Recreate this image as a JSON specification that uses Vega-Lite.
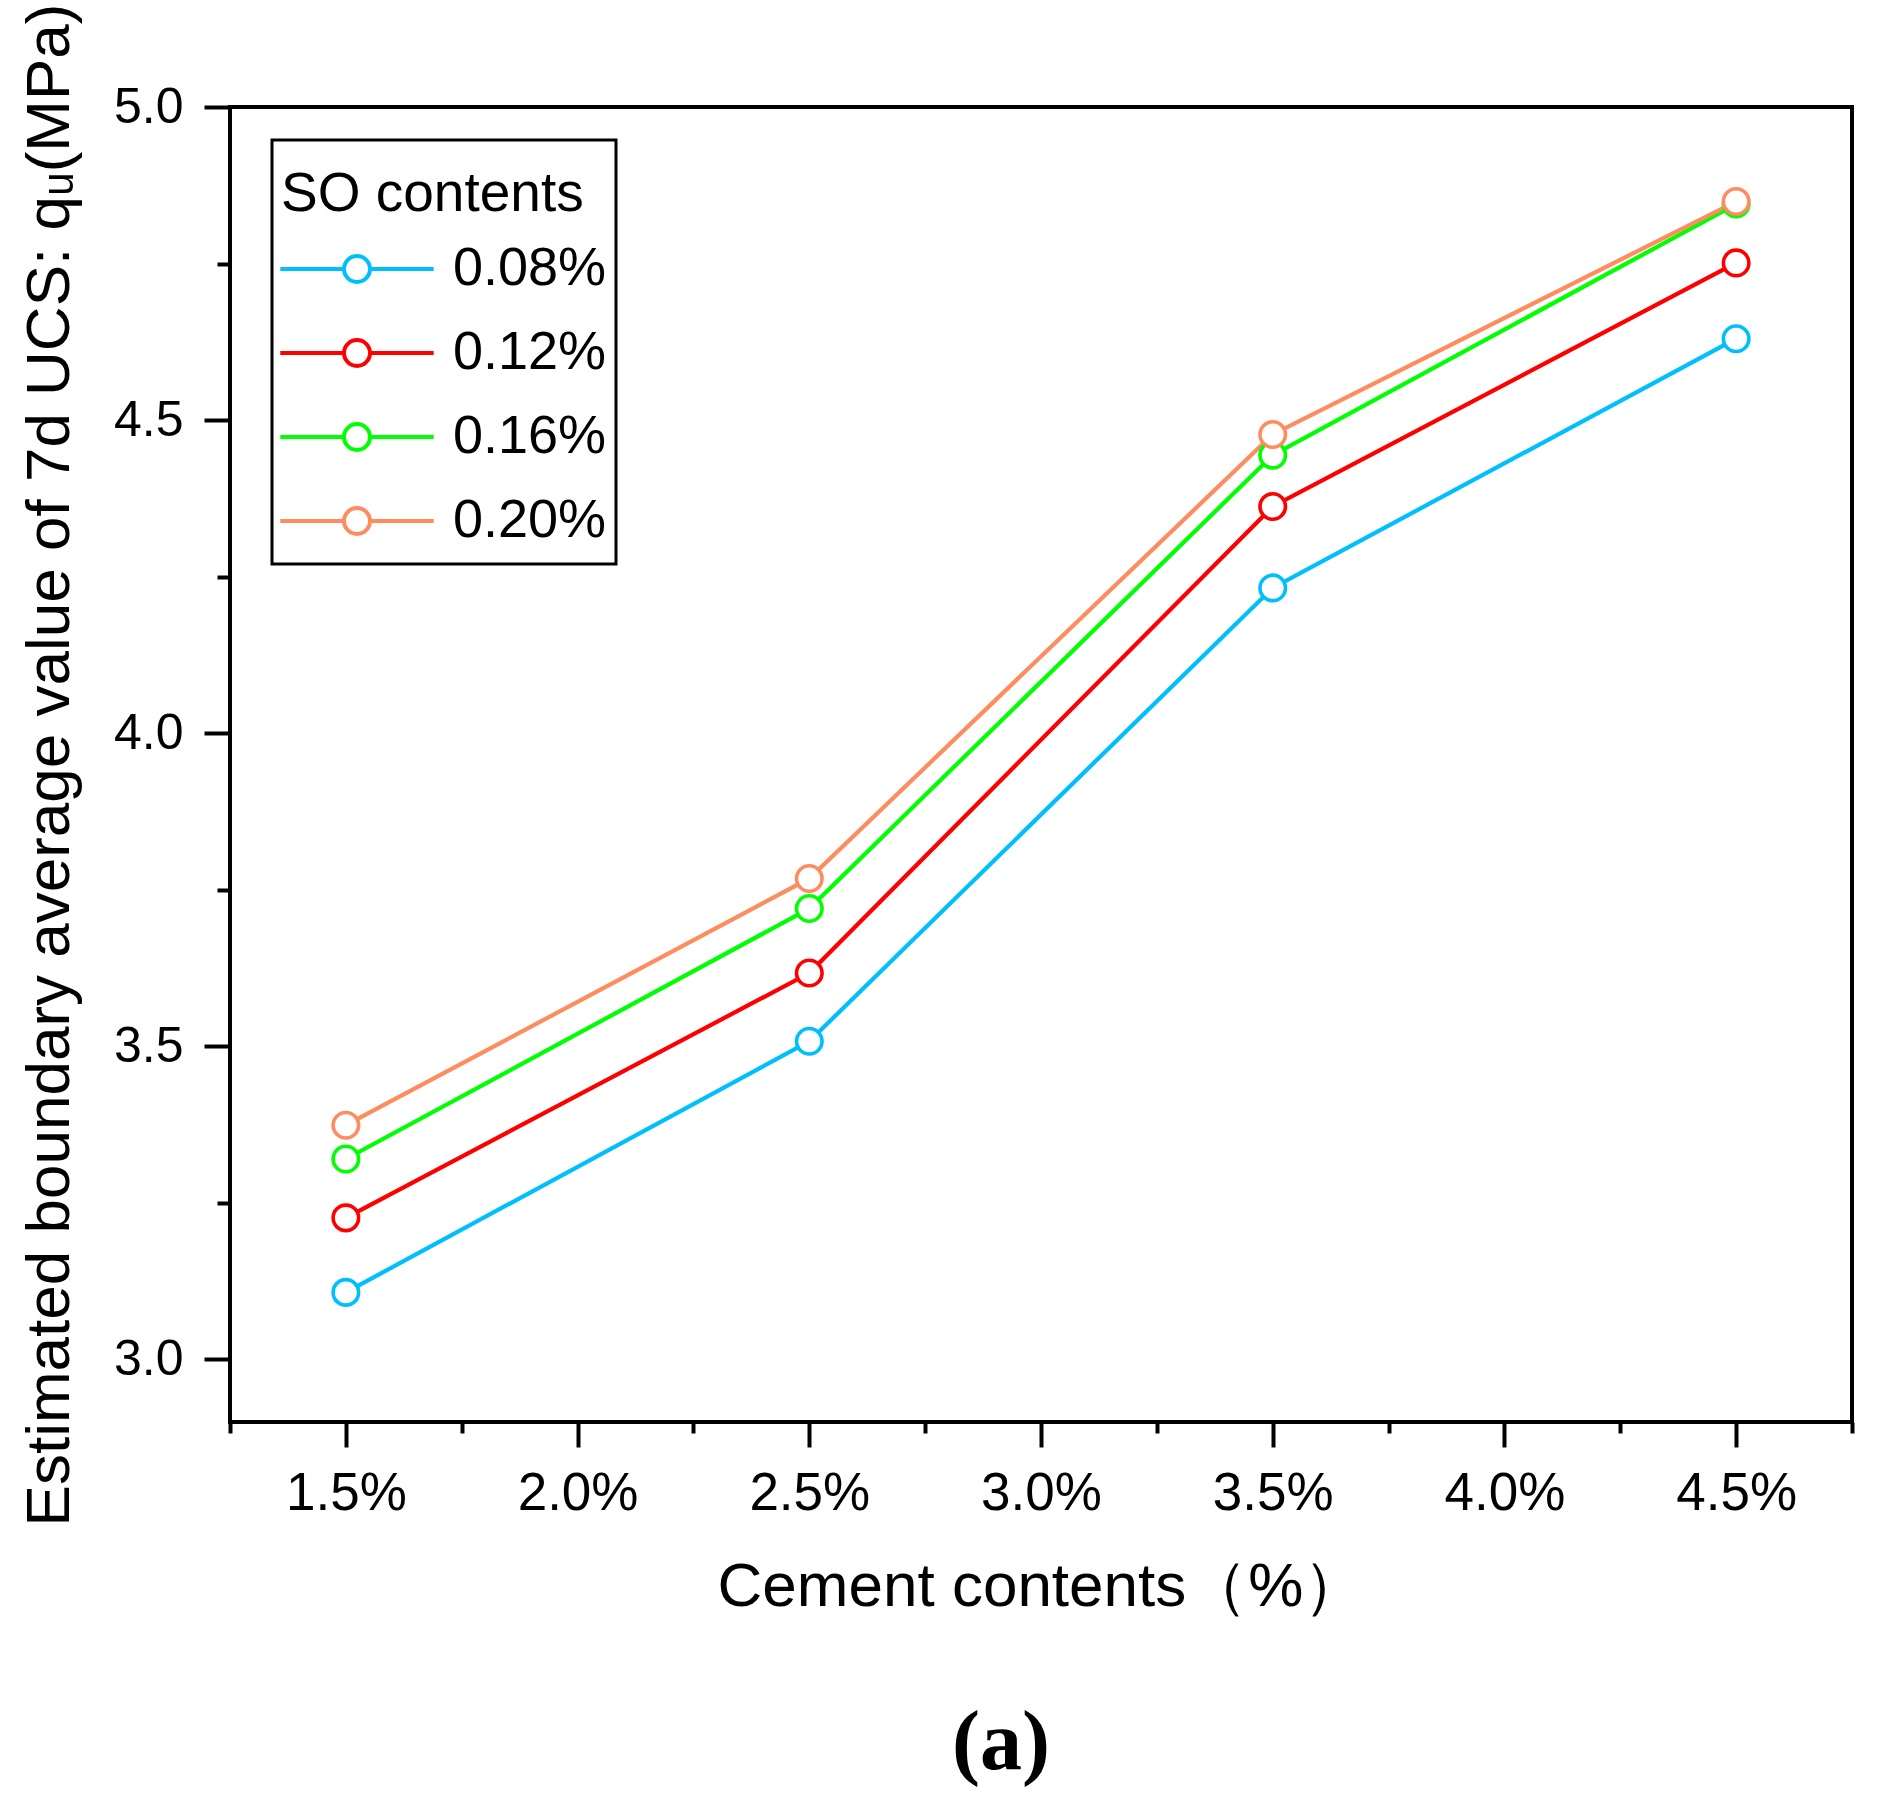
{
  "$schema": "https://vega.github.io/schema/vega-lite/v6.json",
  "width": 1622,
  "height": 1315,
  "autosize": {"type": "none"},
  "padding": {"left": 230, "top": 107, "right": 29, "bottom": 385},
  "background": "white",
  "config": {"view": {"stroke": "black", "strokeWidth": 4}, "font": "Liberation Sans"},
  "title": {"text": "(a)", "orient": "bottom", "font": "Liberation Serif", "fontWeight": "bold", "fontSize": 84, "offset": 86, "dx": -40, "color": "black", "anchor": "middle"},
  "data": {"values": [
    {"cement": 1.5, "so": "0.08%", "q": 3.107},
    {"cement": 2.5, "so": "0.08%", "q": 3.508},
    {"cement": 3.5, "so": "0.08%", "q": 4.232},
    {"cement": 4.5, "so": "0.08%", "q": 4.630},
    {"cement": 1.5, "so": "0.12%", "q": 3.226},
    {"cement": 2.5, "so": "0.12%", "q": 3.617},
    {"cement": 3.5, "so": "0.12%", "q": 4.362},
    {"cement": 4.5, "so": "0.12%", "q": 4.751},
    {"cement": 1.5, "so": "0.16%", "q": 3.320},
    {"cement": 2.5, "so": "0.16%", "q": 3.720},
    {"cement": 3.5, "so": "0.16%", "q": 4.444},
    {"cement": 4.5, "so": "0.16%", "q": 4.845},
    {"cement": 1.5, "so": "0.20%", "q": 3.374},
    {"cement": 2.5, "so": "0.20%", "q": 3.768},
    {"cement": 3.5, "so": "0.20%", "q": 4.477},
    {"cement": 4.5, "so": "0.20%", "q": 4.849}
  ]},
  "encoding": {
    "x": {
      "field": "cement", "type": "quantitative",
      "scale": {"domain": [1.25, 4.75], "nice": false, "zero": false},
      "axis": {
        "values": [1.25, 1.5, 1.75, 2, 2.25, 2.5, 2.75, 3, 3.25, 3.5, 3.75, 4, 4.25, 4.5, 4.75],
        "domain": false, "grid": false,
        "tickColor": "black", "tickWidth": 4,
        "tickSize": {"condition": {"test": "(datum.value*4)%2==0", "value": 25}, "value": 11},
        "labelExpr": "(datum.value*4)%2==0 ? format(datum.value,'.1f')+'%' : ''",
        "labelFont": "Liberation Sans", "labelFontSize": 53, "labelColor": "black", "labelPadding": 20,
        "labelFlush": false, "labelOverlap": false,
        "title": "Cement contents（%）", "titleFont": "Liberation Sans", "titleFontSize": 62, "titleFontWeight": "normal", "titleColor": "black", "titlePadding": 36
      }
    },
    "y": {
      "field": "q", "type": "quantitative",
      "scale": {"domain": [2.9, 5.0], "nice": false, "zero": false},
      "axis": {
        "values": [3, 3.25, 3.5, 3.75, 4, 4.25, 4.5, 4.75, 5],
        "domain": false, "grid": false,
        "tickColor": "black", "tickWidth": 4,
        "tickSize": {"condition": {"test": "(datum.value*4)%2==0", "value": 26}, "value": 13},
        "labelExpr": "(datum.value*4)%2==0 ? format(datum.value,'.1f') : ''",
        "labelFont": "Liberation Sans", "labelFontSize": 50, "labelColor": "black", "labelPadding": 21,
        "labelFlush": false, "labelOverlap": false,
        "title": "Estimated boundary average value of 7d UCS: qᵤ(MPa)", "titleFont": "Liberation Sans", "titleFontSize": 62, "titleFontWeight": "normal", "titleColor": "black", "titlePadding": 32
      }
    },
    "stroke": {
      "field": "so", "type": "nominal",
      "scale": {"domain": ["0.08%", "0.12%", "0.16%", "0.20%"], "range": ["#00BFFF", "#FF0000", "#00FF00", "#FF8C5E"]},
      "legend": {
        "title": "SO contents", "orient": "none", "legendX": 42, "legendY": 33,
        "strokeColor": "black", "fillColor": "white", "padding": 9,
        "titleFont": "Liberation Sans", "titleFontSize": 55, "titleFontWeight": "normal", "titleColor": "black", "titleLimit": 2000,
        "titleBaseline": "line-top", "titleLineHeight": 92, "titlePadding": 38,
        "labelFont": "Liberation Sans", "labelFontSize": 54, "labelColor": "black", "labelLimit": 2000,
        "symbolType": "M-5.9,0L-1.1,0M1.1,0L5.9,0M-1,0A1,1,0,1,1,1,0A1,1,0,1,1,-1,0ZM0,2.0",
        "symbolSize": 676, "symbolStrokeWidth": 4, "symbolFillColor": "white",
        "symbolOffset": 49, "labelOffset": 69, "rowPadding": 23,
        "encode": {"legend": {"update": {"strokeWidth": {"value": 3}}}}
      }
    }
  },
  "layer": [
    {"mark": {"type": "line", "strokeWidth": 4.2}},
    {"mark": {"type": "point", "shape": "circle", "size": 650, "strokeWidth": 3.6, "fill": "white", "filled": true, "opacity": 1}}
  ]
}
